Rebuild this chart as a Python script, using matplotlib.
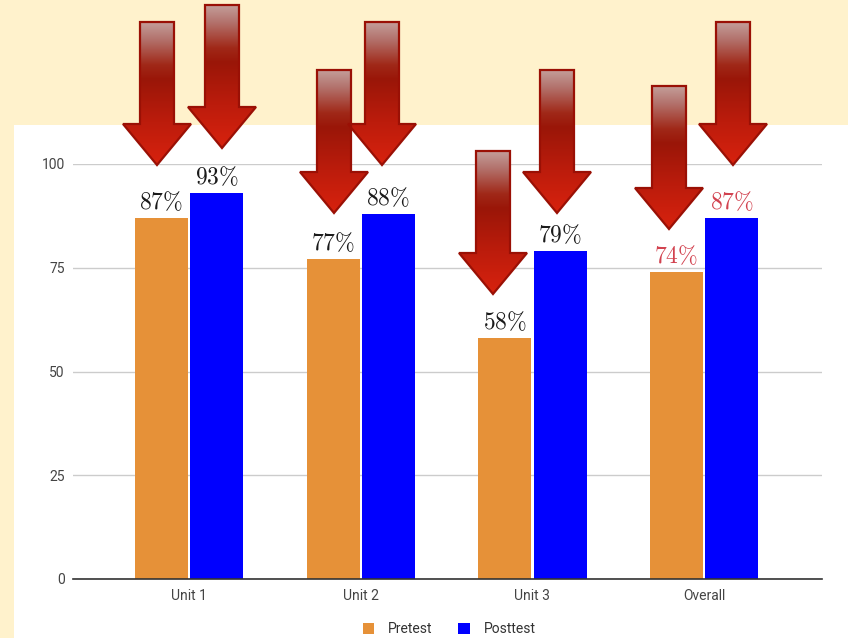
import matplotlib
matplotlib.use("Agg")
import matplotlib.pyplot as plt
import numpy as np
from matplotlib.patches import Rectangle, Polygon, Patch
from matplotlib.colors import LinearSegmentedColormap

# ---- data ----
categories = ["Unit 1", "Unit 2", "Unit 3", "Overall"]
pretest = [87, 77, 58, 74]
posttest = [93, 88, 79, 87]
pre_labels = ["87%", "77%", "58%", "74%"]
post_labels = ["93%", "88%", "79%", "87%"]
yticks = [0, 25, 50, 75, 100]

# decorative arrow tips (figure pixel coords)
arrow_tips = [(157, 165), (222, 148), (334, 213), (382, 165),
              (493, 294), (557, 213), (669, 229), (733, 165)]

plt.rcParams['font.family'] = ['Roboto', 'DejaVu Sans']
plt.rcParams['mathtext.fontset'] = 'cm'

W, H = 848, 638
fig = plt.figure(figsize=(W / 100, H / 100), dpi=100, facecolor='#FFF2CC')
fig.patches.append(Rectangle((14 / W, 0), 1 - 14 / W, (H - 125) / H,
                             transform=fig.transFigure, facecolor='white',
                             edgecolor='none', zorder=-10))

ax = fig.add_axes([73 / W, (H - 579) / H, (822 - 73) / W, (579 - 164) / H])
ax.set_facecolor('none')
x = np.arange(len(categories))
bw = 0.309
off = 0.161
orange = '#E69138'
blue = '#0000FF'
ax.bar(x - off, pretest, bw, color=orange, zorder=3)
ax.bar(x + off, posttest, bw, color=blue, zorder=3)

ax.set_xlim(-0.676, 3.687)
ax.set_ylim(0, 100)
ax.set_yticks(yticks)
ax.set_xticks(x)
ax.set_xticklabels(categories)
ax.tick_params(axis='both', length=0, labelsize=10, labelcolor='#444444')
ax.tick_params(axis='y', pad=6)
ax.tick_params(axis='x', pad=7)
ax.grid(axis='y', color='#CCCCCC', linewidth=1, zorder=0)
for s in ['left', 'right', 'top']:
    ax.spines[s].set_visible(False)
ax.spines['bottom'].set_color('#333333')
ax.spines['bottom'].set_linewidth(1.2)
ax.spines['bottom'].set_zorder(4)

red = '#D2424F'
gap = 2.2
for i in range(len(categories)):
    c = red if categories[i] == 'Overall' else '#1a1a1a'
    ax.text(x[i] - off, pretest[i] + gap, '$' + pre_labels[i].replace('%', r'\%') + '$',
            ha='center', va='baseline', fontsize=17, color=c)
    ax.text(x[i] + off, posttest[i] + gap, '$' + post_labels[i].replace('%', r'\%') + '$',
            ha='center', va='baseline', fontsize=17, color=c)

handles = [Patch(facecolor=orange, edgecolor='none', label='Pretest'),
           Patch(facecolor=blue, edgecolor='none', label='Posttest')]
fig.legend(handles=handles, loc='center', bbox_to_anchor=(449 / W, 1 - 629 / H),
           ncol=2, frameon=False, fontsize=10, handlelength=0.85, handleheight=0.85,
           handletextpad=1.0, columnspacing=1.8, labelcolor='#333333')

# ---- decorative arrows ----
ov = fig.add_axes([0, 0, 1, 1], zorder=10)
ov.set_xlim(0, W)
ov.set_ylim(H, 0)
ov.axis('off')
ov.patch.set_alpha(0)
cmap = LinearSegmentedColormap.from_list('arr', [
    (0.0, '#C49E9A'), (0.12, '#B3726C'), (0.30, '#A02818'),
    (0.40, '#9A1608'), (0.70, '#BC1C0C'), (1.0, '#D8220E')])
grad = np.linspace(0, 1, 256).reshape(-1, 1)
sw, hw, hh, L = 17, 34, 41, 143
for tx, ty in arrow_tips:
    pts = [(tx - sw, ty - L), (tx + sw, ty - L), (tx + sw, ty - hh), (tx + hw, ty - hh),
           (tx, ty), (tx - hw, ty - hh), (tx - sw, ty - hh)]
    poly = Polygon(pts, closed=True, facecolor='none', edgecolor='#9A1005',
                   linewidth=1.6, zorder=12)
    ov.add_patch(poly)
    im = ov.imshow(grad, cmap=cmap, extent=(tx - hw, tx + hw, ty, ty - L),
                   aspect='auto', zorder=11, interpolation='bilinear')
    im.set_clip_path(poly)

fig.savefig('out.png', dpi=100, facecolor=fig.get_facecolor())
